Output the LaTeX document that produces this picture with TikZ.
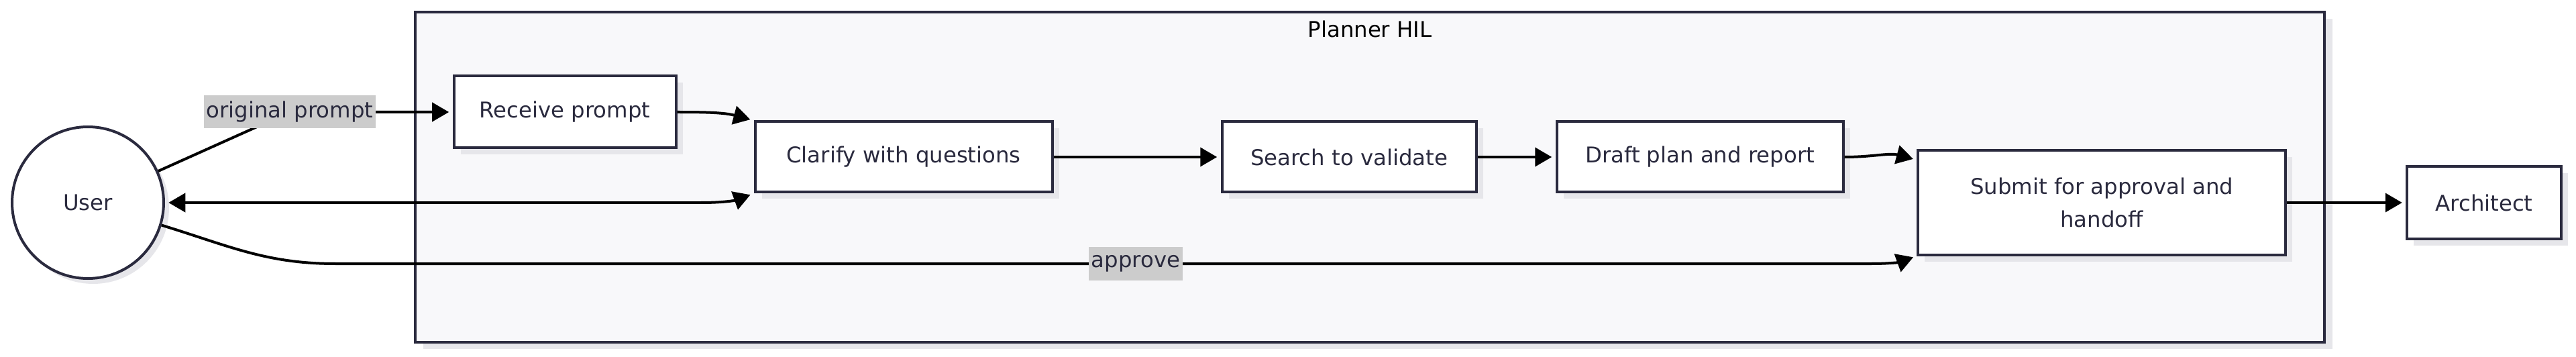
\documentclass[tikz,border=0pt]{standalone}
\usepackage{fontspec}
\setmainfont{DejaVu Sans}
\usepackage{xcolor}
\usepackage{tikz}
\definecolor{inknavy}{RGB}{42,42,62}
\definecolor{clusterfill}{RGB}{248,248,250}
\definecolor{labelgray}{RGB}{204,204,204}
\definecolor{shadowgray}{RGB}{230,230,234}
\usetikzlibrary{shapes,arrows.meta,positioning,shadows,calc}

\begin{document}
\begin{tikzpicture}[
    font=\fontsize{9.2}{14}\selectfont,
    box/.style={rectangle, minimum height=1.05cm, text centered, align=center, draw=inknavy, line width=0.04cm, fill=white, text=inknavy, drop shadow={shadow xshift=0.1cm, shadow yshift=-0.1cm, fill=shadowgray, opacity=1}},
    actor/.style={circle, minimum size=2.26cm, draw=inknavy, line width=0.04cm, fill=white, text=inknavy, drop shadow={shadow xshift=0.08cm, shadow yshift=-0.08cm, fill=shadowgray, opacity=1}},
    cluster/.style={rectangle, draw=inknavy, line width=0.045cm, fill=clusterfill, drop shadow={shadow xshift=0.12cm, shadow yshift=-0.1cm, fill=shadowgray, opacity=1}},
    edgelabel/.style={fill=labelgray, text=inknavy, inner sep=1pt, minimum height=0.49cm},
    arrow/.style={-{Triangle[length=0.25cm, width=0.28cm]}, line width=0.04cm, black, shorten >=1.5pt},
    twoway/.style={{Triangle[length=0.25cm, width=0.28cm]}-{Triangle[length=0.25cm, width=0.28cm]}, line width=0.04cm, black, shorten >=1.5pt, shorten <=1.5pt}
]
\useasboundingbox (0,0) rectangle (38.4,5.31);
\fill[white] (0,0) rectangle (38.4,5.31);

% Planner HIL subgraph
\node[cluster, minimum width=28.46cm, minimum height=4.92cm] (hil) at (20.42,2.67) {};
\node[text=black] (hiltitle) at (20.42,4.88) {Planner HIL};

% Outside actors
\node[actor] (user) at (1.31,2.29) {User};

% Planner steps
\node[box, minimum width=3.31cm, minimum height=1.07cm] (recv) at (8.42,3.64) {Receive prompt};
\node[box, minimum width=4.43cm] (clar) at (13.47,2.97) {Clarify with questions};
\node[box, minimum width=3.79cm, right=2.49cm of clar] (srch) {Search to validate};
\node[box, minimum width=4.27cm, right=1.16cm of srch] (draft) {Draft plan and report};
\node[box, minimum width=5.48cm, minimum height=1.55cm] (sub) at (31.33,2.29) {Submit for approval and\\handoff};
\node[box, minimum width=2.30cm, minimum height=1.07cm, right=1.77cm of sub] (arch) {Architect};

% Bend points
\coordinate (opbend) at (4.32,3.64);
\coordinate (qbend) at (10.45,2.29);
\coordinate (apleft) at (5.0,1.38);
\coordinate (apright) at (27.9,1.38);

% Arrows
\draw[arrow] (user) -- (opbend) node[edgelabel] {original prompt} -- (recv);
\draw[arrow] (recv.east) to[out=0, in=165] (clar.north west);
\draw[twoway] (user.east) -- (qbend) to[out=0, in=-160] (clar.south west);
\draw[arrow] (clar) -- (srch);
\draw[arrow] (srch) -- (draft);
\draw[arrow] (draft.east) to[out=0, in=165] (sub.167);
\draw[arrow] (user.-17) to[out=-17, in=180] (apleft) -- node[edgelabel, pos=0.521] {approve} (apright) to[out=0, in=-160] (sub.south west);
\draw[arrow] (sub) -- (arch);

\end{tikzpicture}
\end{document}
